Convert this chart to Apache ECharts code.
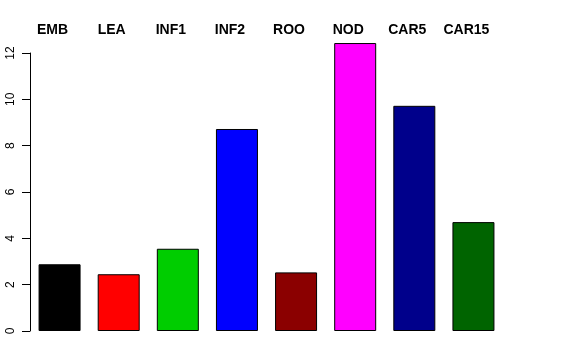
<!DOCTYPE html>
<html>
<head>
<meta charset="utf-8">
<script src="https://cdn.jsdelivr.net/npm/echarts@6/dist/echarts.min.js"></script>
<style>html,body{margin:0;padding:0;background:#fff;}#c{width:576px;height:360px;}</style>
</head>
<body>
<div id="c"></div>
<script>
var categories = ["EMB", "LEA", "INF1", "INF2", "ROO", "NOD", "CAR5", "CAR15"];
var values = [2.88, 2.45, 3.55, 8.72, 2.53, 12.43, 9.72, 4.70];
var barColors = ["#000000", "#FF0000", "#00CD00", "#0000FF", "#8B0000", "#FF00FF", "#00008B", "#006400"];
var yTicks = [0, 2, 4, 6, 8, 10, 12];

var chart = echarts.init(document.getElementById('c'), null, {renderer: 'canvas'});
chart.setOption({
  animation: false,
  backgroundColor: '#ffffff',
  grid: {left: 30, right: 73, top: 53, bottom: 29, containLabel: false},
  xAxis: [{
    type: 'category', data: categories, position: 'bottom',
    axisLine: {show: false}, axisTick: {show: false}, axisLabel: {show: false}
  }, {
    type: 'category', data: categories, position: 'top',
    axisLine: {show: false}, axisTick: {show: false},
    axisLabel: {
      show: true, interval: 0, hideOverlap: false, margin: 16,
      fontFamily: 'Liberation Sans, Arial, sans-serif',
      fontWeight: 'bold', fontSize: 14, color: '#000', padding: [0, 14, 0, 0]
    }
  }],
  yAxis: {
    type: 'value', min: yTicks[0], max: yTicks[yTicks.length - 1], interval: 2,
    splitLine: {show: false},
    axisLine: {show: true, lineStyle: {color: '#000', width: 1}},
    axisTick: {show: true, inside: false, length: 8, lineStyle: {color: '#000'}},
    axisLabel: {
      rotate: 90, margin: 13, fontFamily: 'Liberation Sans, Arial, sans-serif',
      fontSize: 12, color: '#000'
    }
  },
  series: [{
    type: 'bar', xAxisIndex: 0, clip: false, barWidth: 42,
    data: values.map(function (v, i) {
      return {value: v, itemStyle: {color: barColors[i]}};
    }),
    itemStyle: {borderColor: '#000', borderWidth: 1}
  }]
});
</script>
</body>
</html>
